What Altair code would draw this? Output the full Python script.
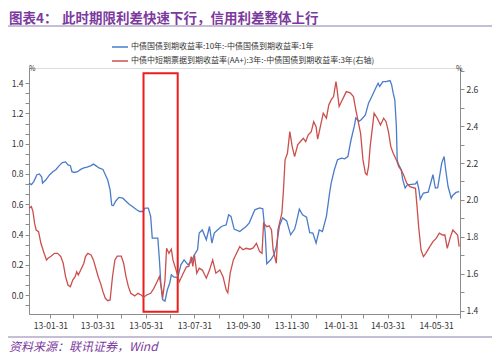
import altair as alt
import pandas as pd

TITLE_NO = "图表4："
TITLE = "此时期限利差快速下行，信用利差整体上行"
SOURCE = "资料来源：联讯证券，Wind"
BLUE_NAME = "中债国债到期收益率:10年:-中债国债到期收益率:1年"
RED_NAME = "中债中短期票据到期收益率(AA+):3年:-中债国债到期收益率:3年(右轴)"

blue_dates = [
    "2013-01-04", "2013-01-07", "2013-01-10", "2013-01-14", "2013-01-17", "2013-01-20",
    "2013-01-21", "2013-01-25", "2013-01-30", "2013-02-03", "2013-02-07", "2013-02-11",
    "2013-02-15", "2013-02-19", "2013-02-22", "2013-02-25", "2013-02-27", "2013-03-02",
    "2013-03-06", "2013-03-10", "2013-03-14", "2013-03-18", "2013-03-23", "2013-03-26",
    "2013-03-29", "2013-04-02", "2013-04-07", "2013-04-10", "2013-04-13", "2013-04-16",
    "2013-04-18", "2013-04-20", "2013-04-23", "2013-04-27", "2013-05-02", "2013-05-06",
    "2013-05-10", "2013-05-14", "2013-05-19", "2013-05-23", "2013-05-27", "2013-05-30",
    "2013-06-03", "2013-06-06", "2013-06-08", "2013-06-15", "2013-06-17", "2013-06-19",
    "2013-06-21", "2013-06-24", "2013-06-27", "2013-06-30", "2013-07-02", "2013-07-05",
    "2013-07-10", "2013-07-14", "2013-07-18", "2013-07-23", "2013-07-27", "2013-07-31",
    "2013-08-04", "2013-08-06", "2013-08-10", "2013-08-15", "2013-08-19", "2013-08-22",
    "2013-08-25", "2013-08-29", "2013-09-03", "2013-09-09", "2013-09-12", "2013-09-15",
    "2013-09-19", "2013-09-26", "2013-10-04", "2013-10-08", "2013-10-15", "2013-10-21",
    "2013-10-25", "2013-10-28", "2013-10-30", "2013-11-04", "2013-11-08", "2013-11-11",
    "2013-11-15", "2013-11-19", "2013-11-24", "2013-11-29", "2013-12-04", "2013-12-06",
    "2013-12-10", "2013-12-14", "2013-12-19", "2013-12-23", "2013-12-27", "2013-12-31",
    "2014-01-04", "2014-01-08", "2014-01-13", "2014-01-17", "2014-01-19", "2014-01-23",
    "2014-01-27", "2014-02-01", "2014-02-05", "2014-02-09", "2014-02-11", "2014-02-13",
    "2014-02-17", "2014-02-19", "2014-02-23", "2014-02-26", "2014-03-03", "2014-03-07",
    "2014-03-11", "2014-03-15", "2014-03-19", "2014-03-21", "2014-03-25", "2014-03-29",
    "2014-04-03", "2014-04-05", "2014-04-07", "2014-04-09", "2014-04-11", "2014-04-12",
    "2014-04-13", "2014-04-17", "2014-04-19", "2014-04-22", "2014-04-25", "2014-04-28",
    "2014-05-05", "2014-05-07", "2014-05-09", "2014-05-11", "2014-05-15", "2014-05-21",
    "2014-05-27", "2014-05-30", "2014-06-02", "2014-06-07", "2014-06-10", "2014-06-12",
    "2014-06-15", "2014-06-19", "2014-06-21", "2014-06-25", "2014-06-29",
]
blue_vals = [
    0.74, 0.73, 0.75, 0.795, 0.80, 0.78,
    0.74, 0.76, 0.795, 0.815, 0.83, 0.855,
    0.875, 0.88, 0.86, 0.855, 0.815, 0.81,
    0.815, 0.83, 0.84, 0.845, 0.855, 0.865,
    0.855, 0.84, 0.83, 0.795, 0.76, 0.695,
    0.595, 0.59, 0.62, 0.645, 0.64, 0.62,
    0.60, 0.585, 0.565, 0.552, 0.552, 0.575,
    0.575, 0.52, 0.376, 0.376, 0.233, 0.057,
    -0.03, -0.04, 0.035, 0.08, 0.134, 0.12,
    0.115, 0.20, 0.233, 0.20, 0.22, 0.266,
    0.30, 0.41, 0.43, 0.365, 0.453, 0.343,
    0.41, 0.43, 0.453, 0.464, 0.53, 0.52,
    0.436, 0.42, 0.453, 0.477, 0.563, 0.576,
    0.57, 0.41, 0.207, 0.233, 0.266, 0.32,
    0.458, 0.51, 0.49, 0.398, 0.436, 0.475,
    0.568, 0.53, 0.515, 0.413, 0.41, 0.343,
    0.43, 0.42, 0.52, 0.674, 0.74, 0.828,
    0.894, 0.905, 0.90, 0.915, 0.97, 1.026,
    1.114, 1.17, 1.147, 1.16, 1.19, 1.268,
    1.31, 1.356, 1.40, 1.378, 1.41, 1.41,
    1.417, 1.39, 1.334, 1.29, 1.114, 0.894,
    0.872, 0.828, 0.762, 0.707, 0.729, 0.73,
    0.735, 0.75, 0.707, 0.634, 0.674, 0.68,
    0.795, 0.707, 0.71, 0.872, 0.915, 0.828,
    0.717, 0.64, 0.66, 0.678, 0.684,
]

red_dates = [
    "2013-01-04", "2013-01-07", "2013-01-09", "2013-01-11", "2013-01-13", "2013-01-16",
    "2013-01-19", "2013-01-23", "2013-01-26", "2013-01-28", "2013-02-01", "2013-02-05",
    "2013-02-09", "2013-02-13", "2013-02-16", "2013-02-19", "2013-02-22", "2013-02-25",
    "2013-02-28", "2013-03-03", "2013-03-05", "2013-03-07", "2013-03-10", "2013-03-14",
    "2013-03-16", "2013-03-19", "2013-03-23", "2013-03-26", "2013-03-29", "2013-04-01",
    "2013-04-04", "2013-04-07", "2013-04-10", "2013-04-13", "2013-04-16", "2013-04-19",
    "2013-04-22", "2013-04-25", "2013-04-30", "2013-05-03", "2013-05-06", "2013-05-09",
    "2013-05-12", "2013-05-17", "2013-05-21", "2013-05-25", "2013-05-28", "2013-06-01",
    "2013-06-06", "2013-06-10", "2013-06-14", "2013-06-17", "2013-06-20", "2013-06-21",
    "2013-06-24", "2013-06-26", "2013-06-29", "2013-07-02", "2013-07-04", "2013-07-08",
    "2013-07-12", "2013-07-17", "2013-07-21", "2013-07-24", "2013-07-27", "2013-07-29",
    "2013-07-31", "2013-08-03", "2013-08-06", "2013-08-10", "2013-08-15", "2013-08-19",
    "2013-08-23", "2013-08-27", "2013-09-01", "2013-09-05", "2013-09-09", "2013-09-11",
    "2013-09-14", "2013-09-18", "2013-09-22", "2013-09-26", "2013-09-30", "2013-10-04",
    "2013-10-09", "2013-10-13", "2013-10-17", "2013-10-21", "2013-10-24", "2013-10-26",
    "2013-10-30", "2013-11-02", "2013-11-05", "2013-11-07", "2013-11-11", "2013-11-13",
    "2013-11-16", "2013-11-18", "2013-11-20", "2013-11-22", "2013-11-25", "2013-11-28",
    "2013-12-01", "2013-12-04", "2013-12-08", "2013-12-13", "2013-12-15", "2013-12-18",
    "2013-12-21", "2013-12-25", "2013-12-28", "2013-12-31", "2014-01-02", "2014-01-05",
    "2014-01-09", "2014-01-13", "2014-01-16", "2014-01-19", "2014-01-22", "2014-01-25",
    "2014-01-26", "2014-01-29", "2014-02-01", "2014-02-04", "2014-02-07", "2014-02-12",
    "2014-02-16", "2014-02-19", "2014-02-22", "2014-02-25", "2014-02-28", "2014-03-03",
    "2014-03-05", "2014-03-07", "2014-03-09", "2014-03-12", "2014-03-14", "2014-03-18",
    "2014-03-22", "2014-03-26", "2014-03-29", "2014-04-01", "2014-04-04", "2014-04-07",
    "2014-04-11", "2014-04-14", "2014-04-17", "2014-04-20", "2014-04-24", "2014-04-28",
    "2014-05-05", "2014-05-07", "2014-05-09", "2014-05-12", "2014-05-15", "2014-05-18",
    "2014-05-23", "2014-05-27", "2014-05-31", "2014-06-04", "2014-06-08", "2014-06-11",
    "2014-06-14", "2014-06-18", "2014-06-21", "2014-06-27", "2014-06-29",
]
red_vals = [
    1.955, 1.964, 1.937, 1.874, 1.837, 1.828,
    1.765, 1.711, 1.675, 1.684, 1.696, 1.711,
    1.711, 1.693, 1.657, 1.584, 1.539, 1.53,
    1.566, 1.584, 1.611, 1.593, 1.62, 1.657,
    1.693, 1.711, 1.702, 1.675, 1.63, 1.584,
    1.548, 1.503, 1.467, 1.454, 1.458, 1.584,
    1.675, 1.696, 1.696, 1.657, 1.584, 1.53,
    1.494, 1.48, 1.494, 1.485, 1.473, 1.485,
    1.494, 1.521, 1.557, 1.584, 1.512, 1.467,
    1.566, 1.738, 1.711, 1.733, 1.675, 1.62,
    1.557, 1.603, 1.638, 1.64, 1.693, 1.64,
    1.702, 1.603, 1.63, 1.62, 1.576, 1.62,
    1.675, 1.603, 1.62, 1.584, 1.512, 1.497,
    1.603, 1.675, 1.711, 1.747, 1.73, 1.738,
    1.733, 1.74, 1.765, 1.72, 1.711, 1.874,
    1.855, 1.86, 1.837, 1.729, 1.657, 1.837,
    1.892, 1.928, 2.054, 2.217, 2.253, 2.37,
    2.289, 2.235, 2.30, 2.325, 2.334, 2.316,
    2.352, 2.37, 2.424, 2.397, 2.329, 2.389,
    2.47, 2.443, 2.515, 2.542, 2.56, 2.641,
    2.614, 2.506, 2.533, 2.56, 2.587, 2.58,
    2.56, 2.488, 2.424, 2.361, 2.217, 2.145,
    2.136, 2.18, 2.289, 2.397, 2.47, 2.443,
    2.406, 2.443, 2.424, 2.37, 2.289, 2.253,
    2.217, 2.18, 2.163, 2.136, 2.091, 2.072,
    2.063, 1.964, 1.855, 1.729, 1.693, 1.711,
    1.747, 1.774, 1.792, 1.82, 1.81, 1.81,
    1.738, 1.80, 1.837, 1.81, 1.747,
]

month_ends = [
    "2013-01-31", "2013-02-28", "2013-03-31", "2013-04-30", "2013-05-31", "2013-06-30",
    "2013-07-31", "2013-08-31", "2013-09-30", "2013-10-31", "2013-11-30", "2013-12-31",
    "2014-01-31", "2014-02-28", "2014-03-31", "2014-04-30", "2014-05-31", "2014-06-30",
]
x_domain = ["2013-01-04", "2014-06-30"]
left_domain = [-0.125, 1.5]
right_domain = [1.382, 2.715]
box = {"start": ["2013-05-28"], "end": ["2013-07-10"], "top": [1.466], "bottom": [-0.11]}

PURPLE = "#7C3A9E"
BLUE = "#4A7CC9"
RED = "#CB4F4C"
AXIS = "#8C8C8C"
SEP = "#B3A9C6"
FONT = "Noto Sans CJK SC"


def ms(s):
    return int((pd.Timestamp(s) - pd.Timestamp("1970-01-01")) // pd.Timedelta("1ms"))


x_vals = [ms(d) for d in month_ends]
x_dom = [ms(d) for d in x_domain]
left_ticks = [k / 15 for k in range(-1, 22)]
right_ticks = [round(1.4 + k * 0.1, 2) for k in range(0, 14)]

blue_df = pd.DataFrame({"date": blue_dates, "v": blue_vals})
red_df = pd.DataFrame({"date": red_dates, "v": red_vals})
box_df = pd.DataFrame(box)


def xaxis():
    return alt.Axis(
        values=x_vals,
        labelExpr="utcmonth(datum.value) % 2 == 0 ? utcFormat(datum.value, '%y-%m-%d') : ''",
        grid=False, title=None, tickSize=4, labelFontSize=8.5, labelColor="#333333",
        domainColor=AXIS, tickColor=AXIS, labelPadding=3, labelOverlap=False,
        labelFlush=False, labelFont=FONT,
    )


def left_axis():
    return alt.Axis(orient="left", values=left_ticks, grid=False, title=None,
                    labelExpr="abs(round(datum.value*15) % 3) == 0 ? format(datum.value, '.1f') : ''",
                    tickSize=4, labelFontSize=8.5, labelColor="#333333",
                    domainColor=AXIS, tickColor=AXIS, labelPadding=2,
                    labelOverlap=False, labelFont=FONT)


def xscale():
    return alt.Scale(type="utc", domain=x_dom, nice=False)


def lscale():
    return alt.Scale(domain=left_domain, nice=False, zero=False)


blue_line = alt.Chart(blue_df).mark_line(color=BLUE, strokeWidth=1.3).encode(
    x=alt.X("date:T", scale=xscale(), axis=xaxis()),
    y=alt.Y("v:Q", scale=lscale(), axis=left_axis()),
)

red_box = alt.Chart(box_df).mark_rect(fillOpacity=0, stroke="#EE1C1C", strokeWidth=2).encode(
    x=alt.X("start:T", scale=xscale(), axis=xaxis()),
    x2="end:T",
    y=alt.Y("top:Q", scale=lscale(), axis=left_axis()),
    y2="bottom:Q",
)

red_line = alt.Chart(red_df).mark_line(color=RED, strokeWidth=1.3).encode(
    x=alt.X("date:T", scale=xscale(), axis=xaxis()),
    y=alt.Y("v:Q", scale=alt.Scale(domain=right_domain, nice=False, zero=False),
            axis=alt.Axis(orient="right", values=right_ticks, grid=False, title=None,
                          labelExpr="round(datum.value*10) % 2 == 0 ? format(datum.value, '.1f') : ''",
                          tickSize=4, labelFontSize=8.5, labelColor="#333333",
                          domainColor=AXIS, tickColor=AXIS, labelPadding=2,
                          labelOverlap=False, labelFont=FONT)),
)


def text_layer(txt, x, y, size, color, weight="normal", style="normal"):
    return alt.Chart(pd.DataFrame({"t": [txt]})).mark_text(
        align="left", baseline="middle", fontSize=size, color=color, font=FONT,
        fontWeight=weight, fontStyle=style,
    ).encode(x=alt.value(x), y=alt.value(y), text="t:N")


def rule_layer(x1, x2, y, color, width):
    return alt.Chart(pd.DataFrame({"a": [0]})).mark_rule(color=color, strokeWidth=width).encode(
        x=alt.value(x1), x2=alt.value(x2), y=alt.value(y)
    )


decor = alt.layer(
    text_layer(TITLE_NO, -20, -49.5, 13.5, PURPLE, weight="bold"),
    text_layer(TITLE, 33, -49.5, 13.5, PURPLE, weight="bold"),
    rule_layer(-21, 464, -42, SEP, 1.5),
    rule_layer(83, 99, -21, BLUE, 1.5),
    text_layer(BLUE_NAME, 102, -21, 8, "#333333"),
    rule_layer(83, 99, -7, RED, 1.5),
    text_layer(RED_NAME, 102, -7, 8, "#333333"),
    text_layer("%", 0, 1, 7, "#333333"),
    text_layer("%", 427, 1, 7, "#333333"),
    rule_layer(-21, 464, 269, SEP, 1.5),
    text_layer(SOURCE, -20, 279, 12, PURPLE, style="italic"),
)

left_group = alt.layer(blue_line, red_box)

chart = alt.layer(left_group, red_line, decor).resolve_scale(y="independent").properties(
    width=431, height=246,
    autosize=alt.AutoSizeParams(type="none"),
    padding={"left": 21, "top": 60, "right": 32, "bottom": 46},
).configure_view(stroke=None).configure(background="white")

chart.save("out.html", embed_options={"renderer": "svg", "actions": False})
